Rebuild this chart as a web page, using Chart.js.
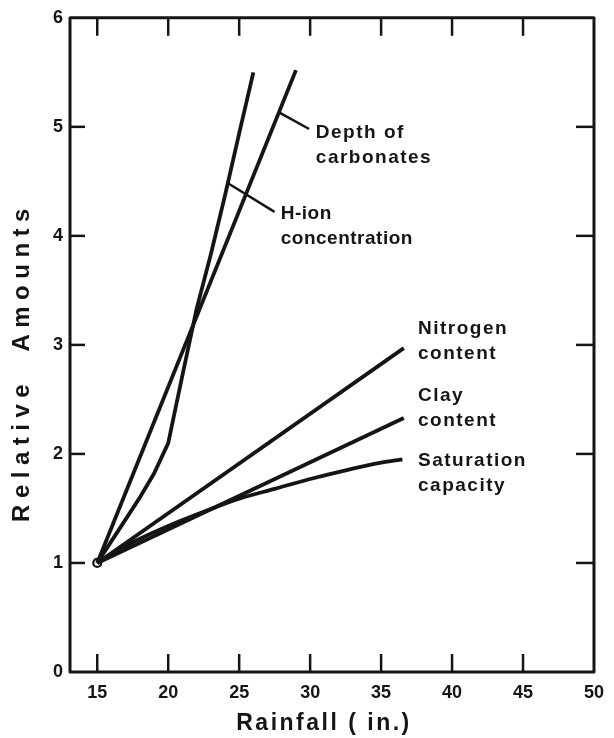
<!DOCTYPE html>
<html>
<head>
<meta charset="utf-8">
<script src="https://cdn.jsdelivr.net/npm/chart.js@4.4.1/dist/chart.umd.min.js"></script>
<style>
  html, body { margin: 0; padding: 0; background: #fff; }
  canvas { display: block; }
</style>
</head>
<body>
<canvas id="chart" width="614" height="738"></canvas>
<script>
// tick values
const xTicks = [15, 20, 25, 30, 35, 40, 45, 50];
const yTicks = [0, 1, 2, 3, 4, 5, 6];

// series (rainfall in inches -> relative amount)
const hIonRain = [15, 16, 17, 18, 19, 20, 21, 22, 23, 24, 25, 26];
const hIonValues = [1, 1.2, 1.4, 1.6, 1.82, 2.1, 2.72, 3.33, 3.83, 4.37, 4.94, 5.5];

const carbRain = [15, 29];
const carbValues = [1, 5.52];

const nitrogenRain = [15, 36.6];
const nitrogenValues = [1, 2.97];

const clayRain = [15, 36.6];
const clayValues = [1, 2.33];

const satRain = [15, 17.5, 20, 22.5, 25, 27.5, 30, 32.5, 35, 36.5];
const satValues = [1, 1.19, 1.34, 1.47, 1.59, 1.68, 1.77, 1.85, 1.92, 1.95];

const INK = '#151515';
const FONT = '"Liberation Sans", Arial, sans-serif';

const pairs = (xs, ys) => xs.map((x, i) => ({ x, y: ys[i] }));

// curve labels: anchor in data units, leader line in data units
const curveLabels = [
  { lines: ['Depth of', 'carbonates'], at: [30.4, 4.95], leader: [[27.84, 5.13], [29.93, 4.98]] },
  { lines: ['H-ion', 'concentration'], at: [27.93, 4.2], leader: [[24.24, 4.48], [27.49, 4.22]], spacing: '0.5px' },
  { lines: ['Nitrogen', 'content'], at: [37.6, 3.15] },
  { lines: ['Clay', 'content'], at: [37.6, 2.53] },
  { lines: ['Saturation', 'capacity'], at: [37.6, 1.936] },
];

function lineSet(data, extra) {
  return Object.assign({
    data,
    showLine: true,
    borderColor: INK,
    borderWidth: 3.8,
    pointRadius: 0,
    tension: 0,
    fill: false,
  }, extra || {});
}

const framePlugin = {
  id: 'frame',
  afterDatasetsDraw(chart) {
    const { ctx, chartArea: a, scales: { x, y } } = chart;
    const seg = (x1, y1, x2, y2) => {
      ctx.beginPath();
      ctx.moveTo(x1, y1);
      ctx.lineTo(x2, y2);
      ctx.stroke();
    };
    ctx.save();
    ctx.strokeStyle = INK;
    ctx.fillStyle = INK;

    // box
    ctx.lineWidth = 3;
    ctx.lineJoin = 'round';
    ctx.strokeRect(a.left, a.top, a.right - a.left, a.bottom - a.top);

    // inward ticks
    ctx.lineWidth = 2.5;
    xTicks.filter(v => v < 50).forEach(v => {
      const px = x.getPixelForValue(v);
      seg(px, a.bottom, px, a.bottom - 18);
      seg(px, a.top, px, a.top + 18);
    });
    yTicks.filter(v => v > 0 && v < 6).forEach(v => {
      const py = y.getPixelForValue(v);
      seg(a.left, py, a.left + 15, py);
      seg(a.right, py, a.right - 18, py);
    });

    // leaders and curve labels
    ctx.lineWidth = 2.5;
    ctx.font = 'bold 19px ' + FONT;
    ctx.textAlign = 'left';
    ctx.textBaseline = 'middle';
    curveLabels.forEach(lab => {
      if (lab.leader) {
        const [p, q] = lab.leader;
        seg(x.getPixelForValue(p[0]), y.getPixelForValue(p[1]),
            x.getPixelForValue(q[0]), y.getPixelForValue(q[1]));
      }
      ctx.letterSpacing = lab.spacing || '1.5px';
      const lx = x.getPixelForValue(lab.at[0]);
      const ly = y.getPixelForValue(lab.at[1]);
      lab.lines.forEach((t, i) => ctx.fillText(t, lx, ly + i * 25));
    });

    // axis titles
    ctx.font = 'bold 23px ' + FONT;
    ctx.textAlign = 'center';
    ctx.letterSpacing = '2.5px';
    ctx.fillText('Rainfall ( in.)', 324, 724);
    ctx.save();
    ctx.translate(22, 362);
    ctx.rotate(-Math.PI / 2);
    ctx.font = 'bold 24px ' + FONT;
    ctx.letterSpacing = '6.5px';
    ctx.fillText('Relative  Amounts', 0, 0);
    ctx.restore();

    ctx.restore();
  }
};

new Chart(document.getElementById('chart'), {
  type: 'scatter',
  data: {
    datasets: [
      lineSet(pairs(hIonRain, hIonValues)),
      lineSet(pairs(carbRain, carbValues)),
      lineSet(pairs(nitrogenRain, nitrogenValues)),
      lineSet(pairs(clayRain, clayValues)),
      lineSet(pairs(satRain, satValues), { tension: 0.3, cubicInterpolationMode: 'monotone' }),
      {
        data: pairs([hIonRain[0]], [hIonValues[0]]),
        pointRadius: 4,
        pointBorderWidth: 2.2,
        pointBackgroundColor: '#fff',
        pointBorderColor: INK,
      },
    ],
  },
  options: {
    responsive: false,
    devicePixelRatio: 1,
    animation: false,
    layout: { padding: { top: 15, right: 15, left: 0, bottom: 0 } },
    plugins: { legend: { display: false }, tooltip: { enabled: false } },
    scales: {
      x: {
        type: 'linear',
        min: 13.08,
        max: 50,
        afterBuildTicks: s => { s.ticks = xTicks.map(v => ({ value: v })); },
        afterFit: s => { s.height = 66; },
        grid: { display: false, drawTicks: false },
        border: { display: false },
        ticks: { color: INK, padding: 10, maxRotation: 0, font: { family: FONT, size: 18, weight: 'bold' } },
      },
      y: {
        min: 0,
        max: 6,
        afterBuildTicks: s => { s.ticks = yTicks.map(v => ({ value: v })); },
        afterFit: s => { s.width = 70; },
        grid: { display: false, drawTicks: false },
        border: { display: false },
        ticks: { color: INK, padding: 7, font: { family: FONT, size: 18, weight: 'bold' } },
      },
    },
  },
  plugins: [framePlugin],
});
</script>
</body>
</html>
